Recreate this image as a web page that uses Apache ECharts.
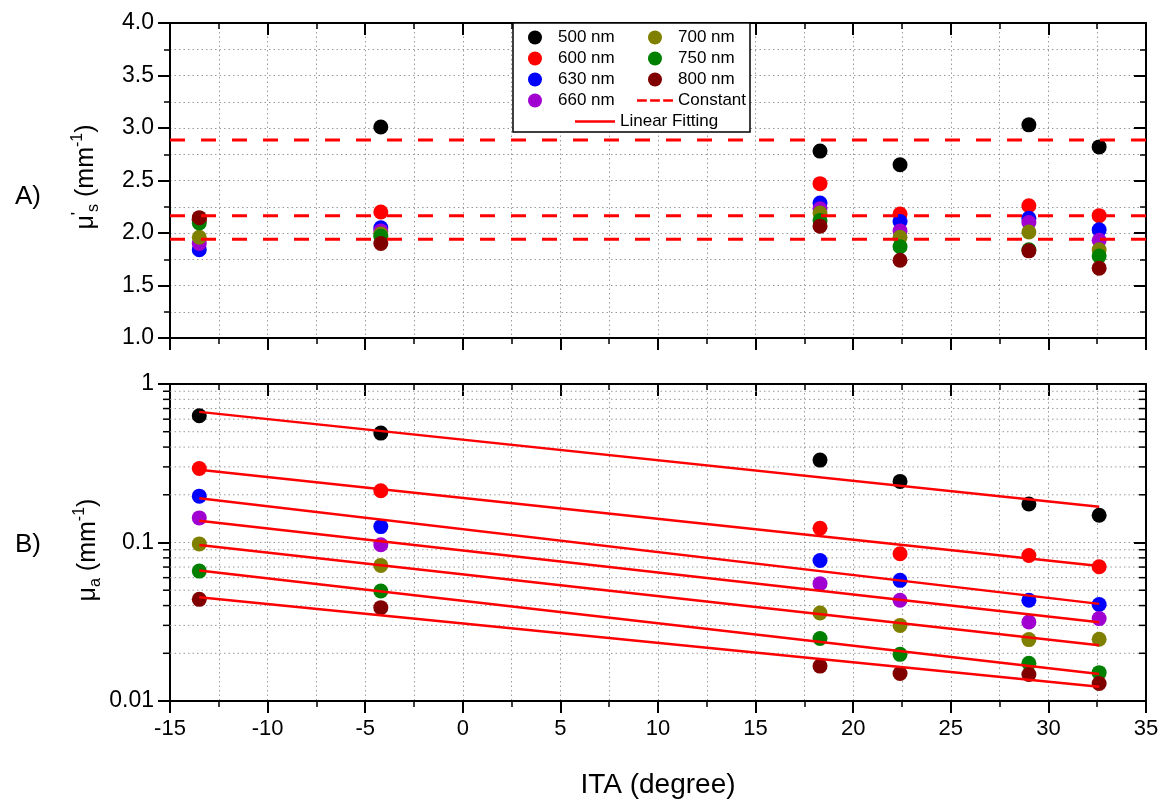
<!DOCTYPE html>
<html>
<head>
<meta charset="utf-8">
<script src="https://cdn.jsdelivr.net/npm/echarts@6/dist/echarts.min.js"></script>
<style>
html,body{margin:0;padding:0;background:#fff;}
#chart{width:1166px;height:807px;}
</style>
</head>
<body>
<div id="chart"></div>
<script>
// ---------- data ----------
const ita = [-13.5, -4.2, 18.3, 22.4, 29.0, 32.6];
const wavelengths = ['500 nm', '600 nm', '630 nm', '660 nm', '700 nm', '750 nm', '800 nm'];
const colors = ['#000000', '#ff0000', '#0000ff', '#a000d0', '#808000', '#008000', '#800000'];

// A) reduced scattering coefficient (mm^-1)
const mus500 = [2.13, 3.01, 2.78, 2.65, 3.03, 2.82];
const mus600 = [2.12, 2.20, 2.47, 2.18, 2.26, 2.165];
const mus630 = [1.84, 2.05, 2.285, 2.11, 2.14, 2.03];
const mus660 = [1.90, 2.02, 2.23, 2.02, 2.10, 1.93];
const mus700 = [1.96, 1.99, 2.19, 1.96, 2.01, 1.84];
const mus750 = [2.095, 1.97, 2.12, 1.87, 1.84, 1.78];
const mus800 = [2.146, 1.90, 2.065, 1.74, 1.83, 1.665];
const constants = [2.885, 2.165, 1.94];

// B) absorption coefficient (mm^-1)
const mua500 = [0.63, 0.49, 0.331, 0.243, 0.175, 0.1485];
const mua600 = [0.293, 0.212, 0.123, 0.085, 0.0828, 0.0703];
const mua630 = [0.196, 0.126, 0.077, 0.0577, 0.0432, 0.0406];
const mua660 = [0.143, 0.0967, 0.055, 0.0432, 0.0315, 0.0331];
const mua700 = [0.098, 0.0717, 0.0359, 0.030, 0.0244, 0.0245];
const mua750 = [0.066, 0.0494, 0.0248, 0.0197, 0.0173, 0.0151];
const mua800 = [0.0438, 0.0388, 0.0166, 0.0149, 0.0147, 0.0129];

// Linear fitting end points (ITA start / end, value start / end)
const fitX = [-13.5, 32.6];
const fit500 = [0.667, 0.168];
const fit600 = [0.288, 0.071];
const fit630 = [0.190, 0.041];
const fit660 = [0.137, 0.0314];
const fit700 = [0.0965, 0.0225];
const fit750 = [0.0665, 0.0148];
const fit800 = [0.0452, 0.0123];

// axis ranges and tick values
const xMin = -15, xMax = 35, xInterval = 5;
const musMin = 1, musMax = 4, musInterval = 0.5;
const muaMin = 0.01, muaMax = 1;
const muaMinorTicks = [0.02, 0.03, 0.04, 0.05, 0.06, 0.07, 0.08, 0.09,
                       0.2, 0.3, 0.4, 0.5, 0.6, 0.7, 0.8, 0.9];

const musSets = [mus500, mus600, mus630, mus660, mus700, mus750, mus800];
const muaSets = [mua500, mua600, mua630, mua660, mua700, mua750, mua800];
const fitSets = [fit500, fit600, fit630, fit660, fit700, fit750, fit800];

// ---------- styles ----------
const FONT = 'Liberation Sans, Arial, sans-serif';
const AXIS_COLOR = '#000';
const GRID_LINE = {show: true, lineStyle: {color: '#9a9a9a', width: 1, type: [1.5, 3]}};

function baseX(grid, pos, showLabel, inside) {
  return {
    type: 'value', gridIndex: grid, position: pos,
    min: xMin, max: xMax, interval: xInterval,
    axisLine: {show: true, onZero: false, lineStyle: {color: AXIS_COLOR, width: 2}},
    axisTick: {show: true, inside: inside, length: 12, lineStyle: {color: AXIS_COLOR, width: 2}},
    minorTick: {show: true, splitNumber: 2, length: 6, lineStyle: {color: AXIS_COLOR, width: 1.5}},
    axisLabel: {show: showLabel, color: '#000', fontFamily: FONT, fontSize: 22, margin: 17},
    splitLine: {show: false},
    minorSplitLine: {show: false}
  };
}

const xAxes = [
  Object.assign(baseX(0, 'bottom', false, false), {splitLine: GRID_LINE, minorSplitLine: GRID_LINE}),
  Object.assign(baseX(1, 'bottom', true, false), {
    splitLine: GRID_LINE, minorSplitLine: GRID_LINE,
    name: 'ITA (degree)', nameLocation: 'middle', nameGap: 70,
    nameTextStyle: {color: '#000', fontFamily: FONT, fontSize: 28}
  }),
  baseX(0, 'top', false, true),
  baseX(1, 'top', false, true)
];

function musY(pos, inside, grid) {
  return {
    type: 'value', gridIndex: 0, position: pos,
    min: musMin, max: musMax, interval: musInterval,
    axisLine: {show: true, onZero: false, lineStyle: {color: AXIS_COLOR, width: 2}},
    axisTick: {show: true, inside: inside, length: 12, lineStyle: {color: AXIS_COLOR, width: 2}},
    minorTick: {show: true, splitNumber: 2, length: 6, lineStyle: {color: AXIS_COLOR, width: 1.5}},
    axisLabel: {show: pos === 'left', color: '#000', fontFamily: FONT, fontSize: 23, margin: 16,
      formatter: v => v.toFixed(1)},
    splitLine: grid ? GRID_LINE : {show: false},
    minorSplitLine: grid ? GRID_LINE : {show: false}
  };
}
function muaY(pos, inside, grid) {
  return {
    type: 'log', logBase: 10, gridIndex: 1, position: pos,
    min: muaMin, max: muaMax,
    axisLine: {show: true, onZero: false, lineStyle: {color: AXIS_COLOR, width: 2}},
    axisTick: {show: true, inside: inside, length: 12, lineStyle: {color: AXIS_COLOR, width: 2}},
    axisLabel: {show: pos === 'left', color: '#000', fontFamily: FONT, fontSize: 23, margin: 16,
      formatter: v => String(Number(v.toPrecision(3)))},
    splitLine: grid ? GRID_LINE : {show: false}
  };
}
const yAxes = [musY('left', false, true), muaY('left', false, true), musY('right', true, false), muaY('right', true, false)];

// ---------- series ----------
const series = [];
wavelengths.forEach((name, i) => {
  series.push({
    name: name, type: 'scatter', xAxisIndex: 0, yAxisIndex: 0,
    symbol: 'circle', symbolSize: 15, itemStyle: {color: colors[i], opacity: 1},
    data: ita.map((x, j) => [x, musSets[i][j]]), z: 2, silent: true
  });
  series.push({
    name: name, type: 'scatter', xAxisIndex: 1, yAxisIndex: 1,
    symbol: 'circle', symbolSize: 15, itemStyle: {color: colors[i], opacity: 1},
    data: ita.map((x, j) => [x, muaSets[i][j]]), z: 2, silent: true
  });
});
constants.forEach(c => {
  series.push({
    name: 'Constant', type: 'line', xAxisIndex: 0, yAxisIndex: 0,
    symbol: 'none', data: [[xMin, c], [xMax, c]],
    lineStyle: {color: '#ff0000', width: 3, type: [15, 16]}, itemStyle: {color: '#ff0000'},
    z: 3, silent: true
  });
});
fitSets.forEach(f => {
  series.push({
    name: 'Linear Fitting', type: 'line', xAxisIndex: 1, yAxisIndex: 1,
    symbol: 'none', data: fitX.map((x, j) => [x, f[j]]),
    lineStyle: {color: '#ff0000', width: 2.5}, itemStyle: {color: '#ff0000'},
    z: 3, silent: true
  });
});
// minor log ticks and minor grid for panel B
series.push({
  type: 'custom', xAxisIndex: 1, yAxisIndex: 1, silent: true, clip: false, z: 1,
  data: muaMinorTicks.map(v => [xMin, v]),
  encode: {x: 0, y: 1},
  renderItem: function (params, api) {
    const v = api.value(1);
    const pL = api.coord([xMin, v]);
    const pR = api.coord([xMax, v]);
    return {
      type: 'group', children: [
        {type: 'line', shape: {x1: pL[0], y1: pL[1], x2: pR[0], y2: pR[1]},
          style: {stroke: '#9a9a9a', lineWidth: 1, lineDash: [1.5, 3]}},
        {type: 'line', shape: {x1: pL[0] - 7, y1: pL[1], x2: pL[0], y2: pL[1]},
          style: {stroke: '#000', lineWidth: 1.5}},
        {type: 'line', shape: {x1: pR[0] - 7, y1: pR[1], x2: pR[0], y2: pR[1]},
          style: {stroke: '#000', lineWidth: 1.5}}
      ]
    };
  }
});

const legendText = {color: '#000', fontFamily: FONT, fontSize: 17, lineHeight: 14};
const legendBase = {orient: 'vertical', align: 'left', padding: 0, itemWidth: 36, itemHeight: 14, itemGap: 4,
  itemStyle: {borderWidth: 0}, textStyle: legendText, selectedMode: false, z: 10};
const dashIcon = 'path://M0,0 h9 v2.4 h-9 z M12,0 h9 v2.4 h-9 z M24,0 h9 v2.4 h-9 z';
const solidIcon = 'path://M0,0 h40 v2.6 h-40 z';

const option = {
  animation: false,
  backgroundColor: '#fff',
  grid: [
    {left: 170, top: 23, width: 976, height: 315},
    {left: 170, top: 384, width: 976, height: 317}
  ],
  xAxis: xAxes,
  yAxis: yAxes,
  legend: [
    Object.assign({}, legendBase, {left: 528, top: 29, data: wavelengths.slice(0, 4)}),
    Object.assign({}, legendBase, {left: 637, top: 29,
      data: wavelengths.slice(4).concat([{name: 'Constant', icon: dashIcon, itemStyle: {color: '#ff0000'}}])}),
    Object.assign({}, legendBase, {left: 575, top: 113, itemWidth: 40,
      data: [{name: 'Linear Fitting', icon: solidIcon, itemStyle: {color: '#ff0000'}}]})
  ],
  graphic: [
    {type: 'rect', z: 5, shape: {x: 513, y: 23, width: 237, height: 109},
      style: {fill: '#fff', stroke: '#000', lineWidth: 1.5}},
    {type: 'text', x: 28, y: 197, style: {text: 'A)', font: '26px ' + FONT, fill: '#000', align: 'center', verticalAlign: 'middle'}},
    {type: 'text', x: 28, y: 545, style: {text: 'B)', font: '26px ' + FONT, fill: '#000', align: 'center', verticalAlign: 'middle'}},
    {type: 'text', x: 86, y: 177, rotation: Math.PI / 2,
      style: {
        text: '{m|μ}{p|\'}{s|s}{m| (mm}{u|-1}{m|)}', align: 'center', verticalAlign: 'middle',
        rich: {
          m: {fontFamily: FONT, fontSize: 25, lineHeight: 32, fill: '#000', verticalAlign: 'middle'},
          p: {fontFamily: FONT, fontSize: 17, lineHeight: 17, fill: '#000', verticalAlign: 'top'},
          s: {fontFamily: FONT, fontSize: 16, lineHeight: 16, fill: '#000', verticalAlign: 'bottom'},
          u: {fontFamily: FONT, fontSize: 16, lineHeight: 16, fill: '#000', verticalAlign: 'top'}
        }
      }},
    {type: 'text', x: 88, y: 550, rotation: Math.PI / 2,
      style: {
        text: '{m|μ}{s|a}{m| (mm}{u|-1}{m|)}', align: 'center', verticalAlign: 'middle',
        rich: {
          m: {fontFamily: FONT, fontSize: 25, lineHeight: 32, fill: '#000', verticalAlign: 'middle'},
          s: {fontFamily: FONT, fontSize: 16, lineHeight: 16, fill: '#000', verticalAlign: 'bottom'},
          u: {fontFamily: FONT, fontSize: 16, lineHeight: 16, fill: '#000', verticalAlign: 'top'}
        }
      }}
  ],
  series: series
};

const chart = echarts.init(document.getElementById('chart'), null, {renderer: 'canvas'});
chart.setOption(option);
</script>
</body>
</html>
